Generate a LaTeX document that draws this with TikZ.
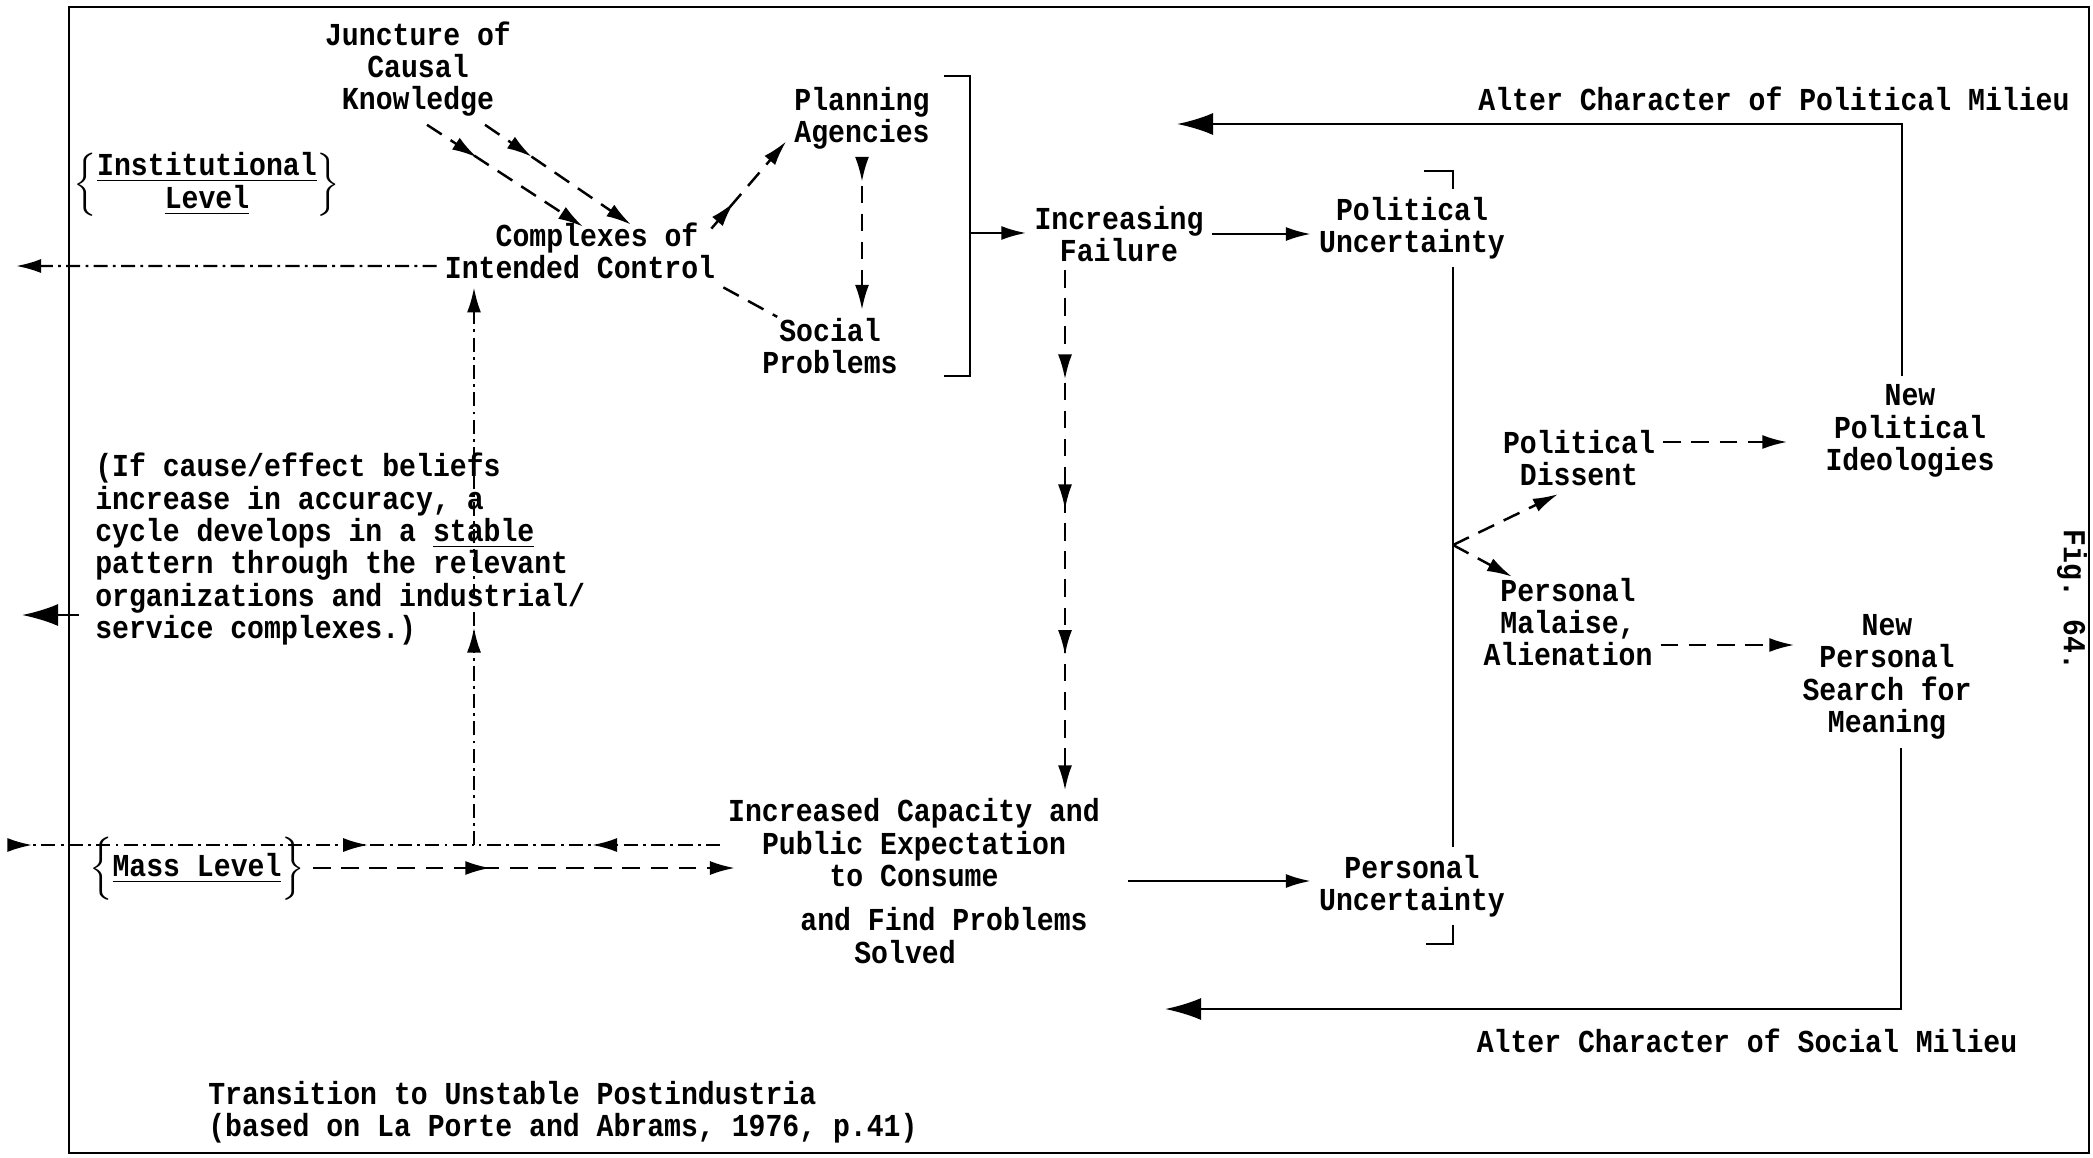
\documentclass[tikz,border=0pt]{standalone}
\usepackage{fontspec}
\setmainfont{Liberation Mono}[FakeStretch=0.88]
\usetikzlibrary{arrows.meta, positioning, decorations.markings}

\begin{document}
\begin{tikzpicture}[
        line width=0.7pt,
        node style/.style={align=center, inner sep=2pt,
            font=\fontsize{9.1}{9.2}\selectfont\bfseries},
        flow/.style={-{Latex[length=2.5mm,width=1.4mm]}},
        big flow/.style={-{Latex[length=3.6mm,width=2.2mm]}},
        dash flow/.style={flow, dash pattern=on 5pt off 3pt},
        dot flow/.style={dash pattern=on 4pt off 1.5pt on 0.8pt off 1.5pt},
        mid arrow/.style={postaction={decorate, decoration={markings,
            mark=at position #1 with {\arrow{Latex[length=2.5mm,width=1.4mm]}}}}},
    ]
        \useasboundingbox (0,0) rectangle (20.93,-11.57);
        \draw (0.69,-0.07) rectangle (20.89,-11.53);

        % Institutional level
        \node[node style] (junc) at (4.18,-0.69) {Juncture of\\Causal\\Knowledge};
        \node[node style] (inst) at (2.07,-1.85) {$\left\{\begin{tabular}{@{}c@{}}\underline{Institutional}\\\underline{Level}\end{tabular}\right\}$};
        \node[node style] (ctrl) at (5.80,-2.51) {\hspace*{0.34cm}Complexes of\\Intended Control};
        \node[node style] (plan) at (8.62,-1.18) {Planning\\Agencies};
        \node[node style] (socp) at (8.30,-3.46) {Social\\Problems};
        \node[node style] (fail) at (11.19,-2.34) {Increasing\\Failure};

        % Uncertainty and responses
        \node[node style] (polunc) at (14.12,-2.28) {Political\\Uncertainty};
        \node[node style] (persunc) at (14.12,-8.86) {Personal\\Uncertainty};
        \node[node style] (dissent) at (15.79,-4.58) {Political\\Dissent};
        \node[node style] (malaise) at (15.68,-6.22) {Personal\\Malaise,\\Alienation};
        \node[node style] (newideo) at (19.10,-4.31) {New\\Political\\Ideologies};
        \node[node style] (newsearch) at (18.87,-6.77) {New\\Personal\\Search for\\Meaning};
        \node[node style] (altpol) at (17.74,-0.99) {Alter Character of Political Milieu};
        \node[node style] (altsoc) at (17.47,-10.41) {Alter Character of Social Milieu};

        % Mass level
        \node[node style] (capac) at (9.14,-8.81) {Increased Capacity and\\Public Expectation\\to Consume\hspace*{0.32cm}\\[0.12cm]\hspace*{0.6cm}and Find Problems\\Solved\hspace*{0.18cm}};
        \node[node style] (mass) at (1.97,-8.68) {$\Big\{$\underline{Mass Level}$\Big\}$};
        \node[node style, align=left, anchor=west] (belief) at (0.87,-5.49) {(If cause/effect beliefs\\increase in accuracy, a\\cycle develops in a \underline{stable}\\pattern through the relevant\\organizations and industrial/\\service complexes.)};
        \node[node style, align=left, anchor=west] (title) at (2.00,-11.12) {Transition to Unstable Postindustria\\(based on La Porte and Abrams, 1976, p.41)};
        \node[node style, rotate=-90] (fig) at (20.72,-6.00) {Fig. 64.};

        % Free ends
        \coordinate (brmid) at (9.70,-2.33);
        \coordinate (pbtop) at (14.53,-1.71);
        \coordinate (pbbot) at (14.53,-9.44);
        \coordinate (branch) at (14.53,-5.45);
        \coordinate (polret) at (11.77,-1.24);
        \coordinate (socret) at (11.65,-10.09);
        \coordinate (outl) at (0.16,-2.66);
        \coordinate (outb) at (0.22,-6.15);
        \coordinate (inl) at (0.14,-8.45);
        \coordinate (corner) at (4.74,-8.45);

        % Upper flows
        \draw[dash flow, mid arrow=0.32] ([xshift=0.09cm]junc.south) -- ([xshift=0.03cm,yshift=-0.12cm]ctrl.north);
        \draw[dash flow, mid arrow=0.32] ([xshift=0.67cm]junc.south) -- ([xshift=0.51cm,yshift=-0.1cm]ctrl.north);
        \draw[dash flow, mid arrow=0.3] ([xshift=-0.12cm,yshift=-0.14cm]ctrl.north east) -- ([yshift=0.16cm]plan.south west);
        \draw[dash pattern=on 5pt off 3pt] (ctrl.south east) -- ([xshift=0.23cm,yshift=-0.07cm]socp.north west);
        \draw[dash flow, mid arrow=0.16] (plan.south) -- (plan.south |- socp.north);
        \draw (9.44,-0.76) -- (9.70,-0.76) -- (9.70,-3.76) -- (9.44,-3.76);
        \draw[flow] (brmid) -- (brmid -| fail.west);
        \draw[flow] (fail.east) -- (fail.east -| polunc.west);

        % Uncertainty bracket and branches
        \draw ([xshift=-0.29cm]pbtop) -- (pbtop) -- (pbtop |- polunc.north);
        \draw (pbtop |- polunc.south) -- (pbtop |- persunc.north);
        \draw (pbbot |- persunc.south) -- (pbbot) -- ([xshift=-0.27cm]pbbot);
        \draw[dash flow] (branch) -- ([xshift=-0.21cm]dissent.south);
        \draw[dash flow] (branch) -- ([xshift=-0.56cm,yshift=-0.07cm]malaise.north);
        \draw[dash flow, shorten >=0.3cm] ([yshift=0.16cm]dissent.east) -- ([yshift=0.16cm]dissent.east -| newideo.west);
        \draw[dash flow] ([yshift=-0.23cm]malaise.east) -- ([yshift=-0.23cm]malaise.east -| newsearch.west);

        % Feedback loops
        \draw[big flow] ([xshift=-0.08cm]newideo.north) |- (polret);
        \draw[big flow] ([xshift=0.14cm]newsearch.south) |- (socret);

        % Lower flows
        \draw[dash flow, mid arrow=0.21, mid arrow=0.46, mid arrow=0.74] ([xshift=-0.54cm]fail.south) -- ([xshift=-0.54cm]fail.south |- capac.north);
        \draw[flow, shorten <=0.2cm] (capac.east) -- (capac.east -| persunc.west);
        \draw[dash flow, mid arrow=0.42] (mass.east) -- ([xshift=0.15cm]mass.east -| capac.west);

        % Dash-dot cycle
        \draw[dot flow, flow] ([yshift=-0.15cm]ctrl.west) -- (outl);
        \draw[dot flow, mid arrow=0.04, mid arrow=0.77] (inl) -- (corner);
        \draw[dot flow, mid arrow=0.52] (capac.west |- corner) -- (corner);
        \draw[dot flow, flow, mid arrow=0.39] (corner) -- (corner |- ctrl.south);
        \draw[big flow] ([xshift=-0.08cm]belief.west |- outb) -- (outb);
    \end{tikzpicture}
\end{document}
